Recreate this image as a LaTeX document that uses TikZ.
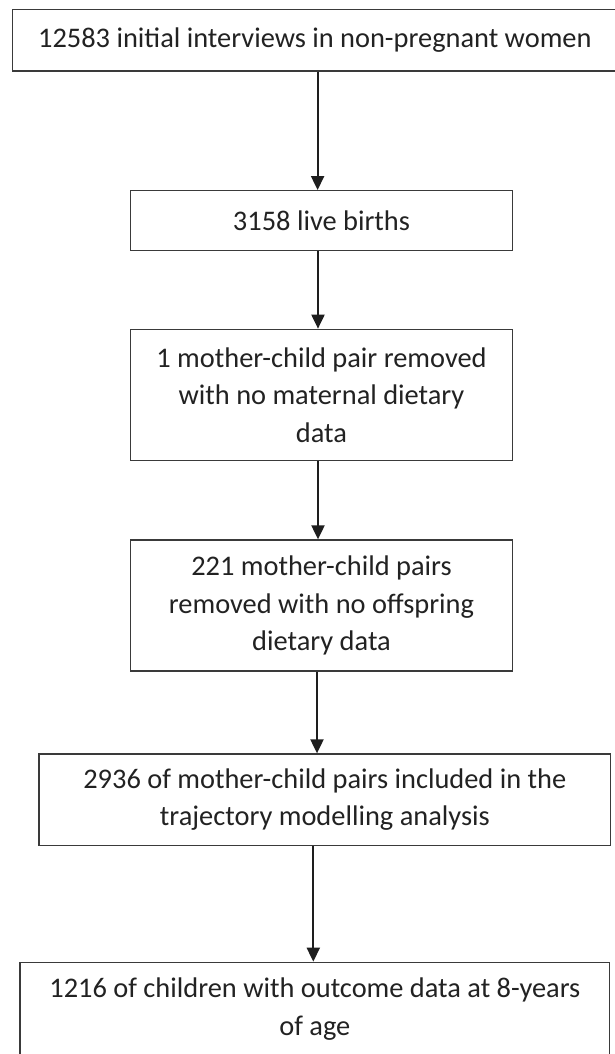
\documentclass[tikz,border=0pt]{standalone}
\usepackage{fontspec}
\setmainfont{Carlito}
\usetikzlibrary{arrows.meta}
\definecolor{boxgray}{HTML}{3A3A3A}
\definecolor{arrgray}{HTML}{1E1E1E}
\definecolor{txt}{HTML}{222222}
\begin{document}
\begin{tikzpicture}[x=1pt,y=-1pt,
  box/.style={draw=boxgray, line width=1.3pt, align=center, text=txt, inner sep=0pt,
    font=\fontsize{28.4}{37.5}\selectfont},
  arr/.style={draw=arrgray, line width=2pt, -{Triangle[length=14pt,width=13pt]}}]
\useasboundingbox (0,0) rectangle (615,1054);
\fill[white] (0,0) rectangle (615,1054);
\clip (0,0) rectangle (615,1054);
\node[box, minimum width=604.3pt, minimum height=61.7pt] (b1) at (314.85,40.15)
  {12583 initial interviews in non-pregnant women};
\node[box, minimum width=381.6pt, minimum height=60pt] (b2) at (321.5,220.7)
  {3158 live births};
\node[box, minimum width=381.6pt, minimum height=131.4pt] (b3) at (321.5,395)
  {1 mother-child pair removed\\with no maternal dietary\\data};
\node[box, minimum width=381.6pt, minimum height=131pt] (b4) at (321.5,605.5)
  {221 mother-child pairs\\removed with no offspring\\dietary data};
\node[box, minimum width=571.7pt, minimum height=91.3pt] (b5) at (324.85,799.65)
  {2936 of mother-child pairs included in the\\trajectory modelling analysis};
\node[box, minimum width=589.7pt, minimum height=93.4pt] (b6) at (314.85,1009)
  {1216 of children with outcome data at 8-years\\of age};
\coordinate (x1) at (317.6,0);
\coordinate (x2) at (318,0);
\coordinate (x3) at (318,0);
\coordinate (x4) at (317,0);
\coordinate (x5) at (313.3,0);
\draw[arr] (b1.south -| x1) -- (b2.north -| x1);
\draw[arr] (b2.south -| x2) -- (b3.north -| x2);
\draw[arr] (b3.south -| x3) -- (b4.north -| x3);
\draw[arr] (b4.south -| x4) -- (b5.north -| x4);
\draw[arr] (b5.south -| x5) -- (b6.north -| x5);
\end{tikzpicture}
\end{document}
